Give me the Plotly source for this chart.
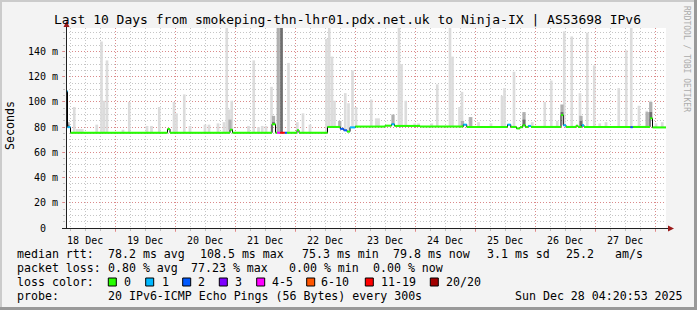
import numpy as np
import pandas as pd
import plotly.graph_objects as go

# ---------------- data ----------------
TITLE = "Last 10 Days from smokeping-thn-lhr01.pdx.net.uk to Ninja-IX | AS53698 IPv6"
END_TIME = "2025-12-28 04:20:53"
SPAN_HOURS = 240

y_tick_values = [0, 20, 40, 60, 80, 100, 120, 140]
y_tick_labels = ["0", "20 m", "40 m", "60 m", "80 m", "100 m", "120 m", "140 m"]

# median RTT (ms) as steps: start hour (since graph start), value, loss bucket
median_start_h = [0, 0.6, 1.8, 40.6, 41.6, 65.6, 66.6, 82.4, 83.8, 84.4,
                  85.7, 87.5, 88.4, 92.4, 93.2, 104.6, 109.7, 111.1, 112.4, 113.6,
                  115.7, 127.6, 130.2, 131.4, 141.6, 158.9, 160.3, 176.6, 177.9, 180.2,
                  181.6, 182.7, 183.7, 184.9, 186.0, 198.0, 198.9, 200.0, 204.0, 204.8,
                  206.3, 207.2, 225.8, 226.7, 233.6, 234.6, 240]
median_ms = [108.5, 80.0, 75.6, 78.5, 75.6, 78.0, 75.6, 82.3, 75.6, 75.6,
             75.6, 75.6, 75.6, 77.5, 75.6, 80.2, 78.7, 77.5, 76.5, 79.8,
             80.5, 81.2, 82.3, 81.0, 80.5, 82.0, 80.2, 82.0, 80.2, 79.0,
             80.0, 81.5, 80.2, 81.0, 80.2, 89.6, 81.5, 80.2, 81.2, 80.2,
             81.5, 80.2, 80.0, 80.2, 87.0, 79.8]
median_loss = [1, 1, 0, 0, 0, 0, 0, 0, 0, 4,
               6, 2, 0, 0, 0, 0, 2, 2, 0, 1,
               0, 0, 1, 0, 0, 1, 0, 1, 0, 0,
               0, 0, 0, 1, 0, 0, 1, 0, 0, 0,
               1, 0, 2, 0, 0, 0]

# smoke: light grey outer spread (top of spread in ms)
smoke_light_h = [3.3, 14.2, 15.2, 16.4, 25.3, 37.3, 43.2, 44.2, 47.3, 64.3,
                 65.3, 66.3, 75.1, 82.2, 89.0, 94.8, 104.2, 105.3, 106.4, 107.4,
                 111.7, 113.0, 114.6, 116.0, 122.1, 124.1, 133.2, 134.2, 135.9, 148.5,
                 153.6, 154.6, 157.4, 158.4, 161.5, 174.4, 175.4, 179.2, 191.5, 194.1,
                 199.3, 202.3, 205.6, 208.5, 211.3, 221.1, 224.1, 226.1, 229.2, 232.3,
                 233.9]
smoke_light_top = [96, 148, 101, 133, 100, 96, 100, 91, 106, 170,
                   94, 101, 133, 112, 131, 91, 150, 170, 136, 101,
                   107, 99, 125, 96, 102, 87, 170, 130, 101, 114,
                   170, 136, 96, 108, 88, 105, 111, 124, 100, 117,
                   156, 152, 107, 155, 129, 111, 141, 170, 97, 93,
                   101]
# smoke: small spread just above the median
smoke_low_h = [4.5, 5.5, 6.5, 12.3, 22.8, 32.4, 34.2, 49.6, 55.6, 57.2,
               60.8, 63.2, 73.0, 77.0, 78.5, 80.0, 92.5, 97.6, 125.0, 139.5,
               141.0, 146.3, 165.0, 170.0, 186.5, 196.5, 213.5, 216.0, 236.0, 238.5]
smoke_low_top = [78.5, 78.5, 78.5, 82, 78, 81, 81, 81, 82, 82,
                 83, 84, 81, 80, 81, 81, 84, 82, 87, 83,
                 83, 83, 84, 83, 84, 85, 83, 84, 83, 84]
# smoke: medium grey inner spread
smoke_mid_h = [0.8, 65.6, 83.0, 84.9, 109.5, 130.8, 158.6, 161.9, 183.2, 198.4,
               206.0, 232.5, 233.9]
smoke_mid_top = [84, 86, 89, 170, 85, 90, 85, 88, 92, 98,
                 89, 92, 100]
# smoke: dark grey core spread
smoke_dark_h = [0.8, 83.0, 86.2, 183.2, 198.4, 206.0, 233.9]
smoke_dark_top = [82, 84, 170, 86, 92, 85, 92]

loss_labels = ["0", "1", "2", "3", "4-5", "6-10", "11-19", "20/20"]
loss_colors = ["#26ff00", "#00b8ff", "#0059ff", "#7e00ff", "#ff00ff", "#ff5500", "#ff0000", "#a10000"]

rtt_stats = ["78.2 ms avg", "108.5 ms max", "75.3 ms min", "79.8 ms now", "3.1 ms sd", "25.2", "am/s"]
loss_stats = ["0.80 % avg", "77.23 % max", "0.00 % min", "0.00 % now"]
probe_text = "20 IPv6-ICMP Echo Pings (56 Bytes) every 300s"
stamp_text = "Sun Dec 28 04:20:53 2025"

# ---------------- geometry / style ----------------
W, H = 697, 310
PL, PT, PW, PH = 66, 28, 600, 200
Y_MAX = 158.7
MONO = "DejaVu Sans Mono"
BACK = "#f3f3f3"
GRID = "rgba(150,150,150,0.55)"
MGRID = "rgba(235,90,90,0.55)"
SMOKE_LIGHT = "#dcdcdc"
SMOKE_MID = "#b0b0b0"
SMOKE_DARK = "#6e6e6e"


def pxx(p):
    return (p - PL) / PW


def pxy(p):
    return (PT + PH - p) / PH


t_end = pd.Timestamp(END_TIME)
t_start = t_end - pd.Timedelta(hours=SPAN_HOURS)


def at(hours):
    return t_start + pd.to_timedelta(np.asarray(hours, dtype=float), unit="h")


m_start = np.asarray(median_start_h, dtype=float)
m_val = np.asarray(median_ms, dtype=float)


def median_at(hours):
    idx = np.searchsorted(m_start, np.asarray(hours, dtype=float), side="right") - 1
    idx = np.clip(idx, 0, len(m_val) - 1)
    return m_val[idx]


fig = go.Figure()


def smoke_bar(hours, tops, color, width_h):
    hours = np.asarray(hours, dtype=float)
    tops = np.asarray(tops, dtype=float)
    base = median_at(hours)
    fig.add_trace(go.Bar(
        x=at(hours), y=tops - base, base=base,
        width=width_h * 3600 * 1000,
        marker=dict(color=color, line=dict(width=0)),
        hoverinfo="skip", showlegend=False,
    ))


smoke_bar(smoke_low_h, smoke_low_top, SMOKE_LIGHT, 1.1)
smoke_bar(smoke_light_h, smoke_light_top, SMOKE_LIGHT, 1.05)
smoke_bar(smoke_mid_h, smoke_mid_top, SMOKE_MID, 1.3)
smoke_bar(smoke_dark_h, smoke_dark_top, SMOKE_DARK, 1.1)

# thin dark median step line (shows the vertical transitions)
step_x = list(at(median_start_h))
step_y = list(m_val) + [m_val[-1]]
fig.add_trace(go.Scatter(x=step_x, y=step_y, mode="lines",
                         line=dict(color="#000000", width=1, shape="hv"),
                         hoverinfo="skip", showlegend=False))

# coloured median segments by loss bucket
seg_t = at(median_start_h)
for b, col in enumerate(loss_colors):
    xs, ys = [], []
    for i, lb in enumerate(median_loss):
        if lb == b:
            xs += [seg_t[i], seg_t[i + 1], None]
            ys += [m_val[i], m_val[i], None]
    if xs:
        fig.add_trace(go.Scatter(x=xs, y=ys, mode="lines",
                                 line=dict(color=col, width=2),
                                 hoverinfo="skip", showlegend=False))

midnights = pd.date_range(t_start.ceil("D"), t_end, freq="D")
day_text = [(m - pd.Timedelta(days=1)).strftime("%d %b") for m in midnights]

# rrdtool pads unit-less labels ("0" + blank unit) so they sit left of the "m" column
pad = f"<span style='color:{BACK}'>_m</span>"
y_tick_text = [s if " " in s else s + pad for s in y_tick_labels]

fig.update_layout(
    width=W, height=H, autosize=False,
    margin=dict(l=PL, r=W - PL - PW, t=PT, b=H - PT - PH, pad=0),
    paper_bgcolor=BACK, plot_bgcolor="#ffffff",
    barmode="overlay", showlegend=False,
    xaxis=dict(
        type="date", range=[t_start, t_end], fixedrange=True,
        tickmode="array", tickvals=list(midnights), ticktext=day_text,
        ticklabelshift=-30,
        showgrid=True, gridcolor=MGRID, griddash="1px,2px", gridwidth=1,
        ticks="outside", ticklen=3, tickcolor=MGRID,
        minor=dict(dtick=6 * 3600 * 1000, tick0=str(midnights[0]), showgrid=True,
                   gridcolor=GRID, griddash="1px,2px", gridwidth=1,
                   ticks="outside", ticklen=2, tickcolor=GRID),
        zeroline=False, showline=False,
        tickfont=dict(family=MONO, size=10, color="#000000"),
    ),
    yaxis=dict(
        range=[0, Y_MAX], fixedrange=True,
        tickmode="array", tickvals=y_tick_values, ticktext=y_tick_text,
        showgrid=True, gridcolor=MGRID, griddash="1px,2px", gridwidth=1,
        ticks="outside", ticklen=3, tickcolor=MGRID,
        minor=dict(dtick=5, tick0=0, showgrid=True, gridcolor=GRID,
                   griddash="1px,2px", gridwidth=1,
                   ticks="outside", ticklen=2, tickcolor=GRID),
        zeroline=False, showline=False,
        tickfont=dict(family=MONO, size=10, color="#000000"),
        ticklabelstandoff=2,
    ),
)

shapes = []
# 3D frame
shapes.append(dict(type="rect", xref="paper", yref="paper", x0=pxx(0), x1=pxx(W), y0=pxy(0), y1=pxy(2),
                   fillcolor="#cbcbcb", line=dict(width=0), layer="above"))
shapes.append(dict(type="rect", xref="paper", yref="paper", x0=pxx(0), x1=pxx(2), y0=pxy(0), y1=pxy(H),
                   fillcolor="#cbcbcb", line=dict(width=0), layer="above"))
shapes.append(dict(type="rect", xref="paper", yref="paper", x0=pxx(W - 3), x1=pxx(W), y0=pxy(0), y1=pxy(H),
                   fillcolor="#999999", line=dict(width=0), layer="above"))
shapes.append(dict(type="rect", xref="paper", yref="paper", x0=pxx(0), x1=pxx(W), y0=pxy(H - 3), y1=pxy(H),
                   fillcolor="#999999", line=dict(width=0), layer="above"))
# axes with arrows
shapes.append(dict(type="line", xref="paper", yref="paper", x0=pxx(66.5), x1=pxx(66.5), y0=pxy(228.5), y1=pxy(24),
                   line=dict(color="#202020", width=1), layer="above"))
shapes.append(dict(type="line", xref="paper", yref="paper", x0=pxx(62), x1=pxx(670), y0=pxy(228.5), y1=pxy(228.5),
                   line=dict(color="#202020", width=1), layer="above"))
ARROW = "#9a1a1a"
shapes.append(dict(type="path", xref="paper", yref="paper",
                   path=f"M {pxx(63.5)} {pxy(27)} L {pxx(69.5)} {pxy(27)} L {pxx(66.5)} {pxy(21)} Z",
                   fillcolor=ARROW, line=dict(width=0), layer="above"))
shapes.append(dict(type="path", xref="paper", yref="paper",
                   path=f"M {pxx(668)} {pxy(225.5)} L {pxx(668)} {pxy(231.5)} L {pxx(674)} {pxy(228.5)} Z",
                   fillcolor=ARROW, line=dict(width=0), layer="above"))

# legend colour boxes
box_x = [108.3, 145.7, 182.7, 219.3, 256.7, 306.7, 365.3, 430.3]
lab_x = [123.3, 161, 197.3, 234.3, 270.7, 320, 380.3, 445.3]
for bx, col in zip(box_x, loss_colors):
    shapes.append(dict(type="rect", xref="paper", yref="paper",
                       x0=pxx(bx), x1=pxx(bx + 8), y0=pxy(278), y1=pxy(286),
                       fillcolor=col, line=dict(color="#000000", width=1), layer="above"))
fig.update_layout(shapes=shapes)

anns = []


def text(s, x, y, size=11.6, anchor="left", color="#000000", angle=0):
    anns.append(dict(text=s, xref="paper", yref="paper", x=pxx(x), y=pxy(y),
                     xanchor=anchor, yanchor="middle", showarrow=False, textangle=angle,
                     font=dict(family=MONO, size=size, color=color), borderpad=0))


text(TITLE, 347.5, 19, size=13, anchor="center")
text("Seconds", 10, 126, size=11.6, anchor="center", angle=-90)
text("RRDTOOL / TOBI OETIKER", 687, 59, size=8, anchor="center", color="#ababab", angle=90)

L1, L2, L3, L4 = 254.3, 268.3, 282.3, 296.3
text("median rtt:", 16, L1)
for s, x in zip(rtt_stats, [107, 198.5, 301, 392, 486, 565, 613.5]):
    text(s, x, L1)
text("packet loss:", 16, L2)
for s, x in zip(loss_stats, [106.6, 190.3, 287.8, 371.5]):
    text(s, x, L2)
text("loss color:", 16, L3)
for s, x in zip(loss_labels, lab_x):
    text(s, x, L3)
text("probe:", 16, L4)
text(probe_text, 107.3, L4)
text(stamp_text, 513.7, L4)

fig.update_layout(annotations=anns)

fig.write_html("out.html", config={"displayModeBar": False, "staticPlot": True})
